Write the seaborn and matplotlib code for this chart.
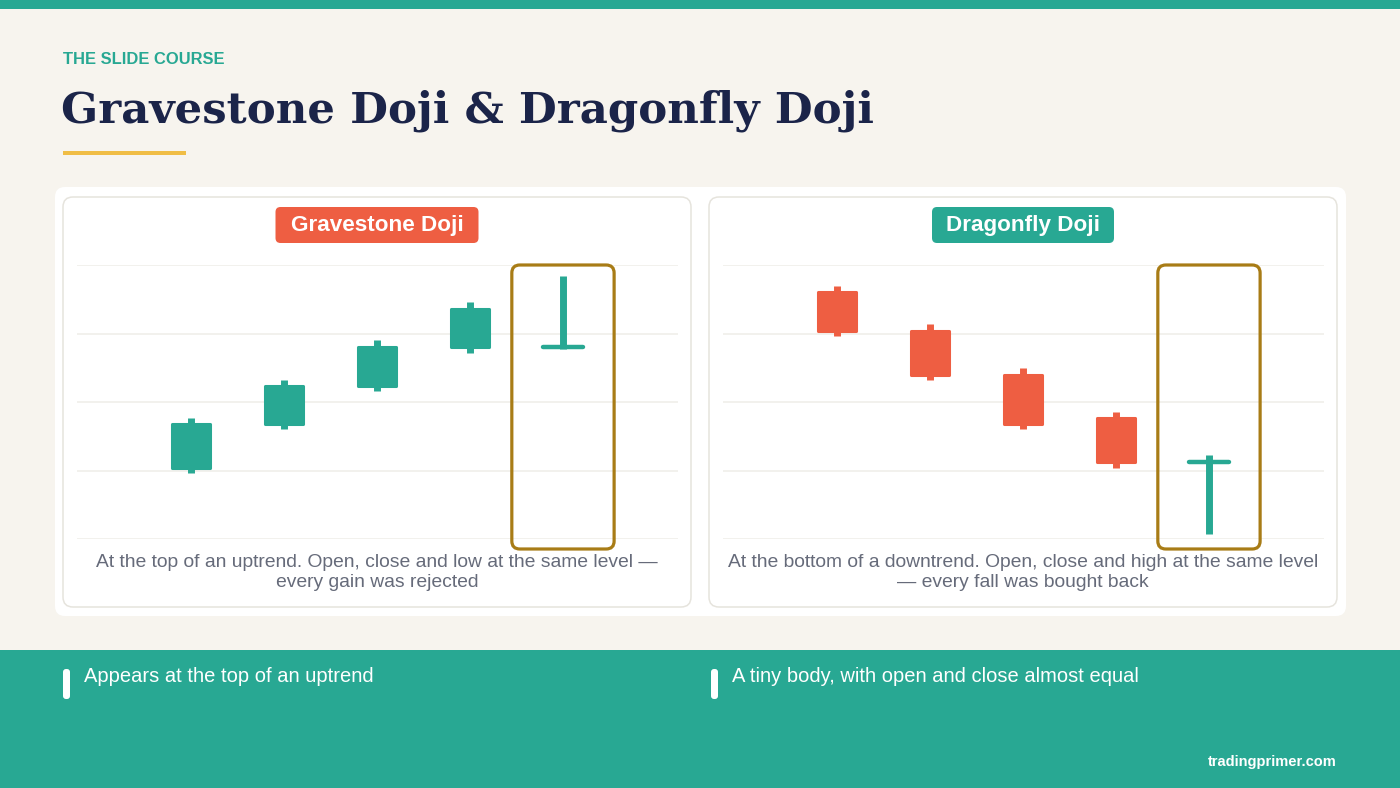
import numpy as np
import pandas as pd
import matplotlib
matplotlib.use("Agg")
import matplotlib.pyplot as plt
import seaborn as sns
from matplotlib.patches import FancyBboxPatch, Rectangle

# ---------------- data ----------------
candle_index = [0, 1, 2, 3, 4]
grave_open = [26, 42, 56, 70, 70]
grave_close = [42, 56, 70, 84, 70]
grave_high = [44, 58, 72.5, 86.5, 96]
grave_low = [24, 40, 54, 68, 69.5]

dragon_open = [90, 76, 60, 44, 28]
dragon_close = [76, 60, 42, 28, 28]
dragon_high = [92.5, 78.5, 62.5, 46.5, 30.5]
dragon_low = [74, 58, 40, 26, 2]

grid_levels = [0, 25, 50, 75, 100]

kicker = "THE SLIDE COURSE"
title = "Gravestone Doji & Dragonfly Doji"
panel_titles = ["Gravestone Doji", "Dragonfly Doji"]
captions = [
    "At the top of an uptrend. Open, close and low at the same level \u2014\nevery gain was rejected",
    "At the bottom of a downtrend. Open, close and high at the same level\n\u2014 every fall was bought back",
]
bullets = ["Appears at the top of an uptrend", "A tiny body, with open and close almost equal"]
footer_site = "tradingprimer.com"

# ---------------- style ----------------
TEAL = "#28a893"
RED = "#ee5e42"
NAVY = "#1b2449"
GOLD = "#f0bd45"
BOX = "#a87c16"
BG = "#f7f4ee"
GRID = "#efede8"
CAPTION = "#666b7a"

sns.set_theme(style="white")
plt.rcParams["font.family"] = ["Liberation Sans", "DejaVu Sans"]

W, H = 1400, 788
fig = plt.figure(figsize=(W / 100, H / 100), dpi=100, facecolor=BG)

ax_bg = fig.add_axes([0, 0, 1, 1], zorder=0)
ax_bg.set_xlim(0, W)
ax_bg.set_ylim(H, 0)
ax_bg.axis("off")
ax_bg.set_facecolor(BG)


def rrect(ax, x0, y0, x1, y1, r, fc, ec="none", lw=0, z=1):
    p = FancyBboxPatch((x0, y0), x1 - x0, y1 - y0,
                       boxstyle=f"round,pad=0,rounding_size={r}",
                       fc=fc, ec=ec, lw=lw, zorder=z)
    ax.add_patch(p)
    return p


# top bar
ax_bg.add_patch(Rectangle((0, 0), W, 9, fc=TEAL, ec="none", zorder=2))

# header
ax_bg.text(63, 64, kicker, fontsize=11.9, fontweight="bold", color=TEAL, va="baseline", ha="left")
ax_bg.text(61, 122, title, fontsize=31.3, fontweight="bold", family=["DejaVu Serif"], color=NAVY,
           va="baseline", ha="left")
ax_bg.add_patch(Rectangle((63, 151), 123, 4, fc=GOLD, ec="none", zorder=2))

# card and panels
rrect(ax_bg, 55, 187, 1346, 616, 10, "white", z=1)
panel_x = [(63, 691), (709, 1337)]
for (x0, x1) in panel_x:
    rrect(ax_bg, x0, 197, x1, 607, 10, "white", ec="#e6e4dd", lw=1.1, z=2)

# badges
badge_colors = [RED, TEAL]
badge_w = [203, 182]
for (x0, x1), t, c, bw in zip(panel_x, panel_titles, badge_colors, badge_w):
    cx = (x0 + x1) / 2
    rrect(ax_bg, cx - bw / 2, 207, cx + bw / 2, 243, 5, c, z=3)
    ax_bg.text(cx, 225.5, t, fontsize=16.2, fontweight="bold", color="white",
               ha="center", va="center", zorder=4)

# captions
for (x0, x1), cap in zip(panel_x, captions):
    cx = (x0 + x1) / 2
    ax_bg.text(cx, 572.5, cap, fontsize=13.9, color=CAPTION, ha="center", va="center",
               multialignment="center", linespacing=1.2, zorder=4)

# footer
ax_bg.add_patch(Rectangle((0, 650), W, H - 650, fc=TEAL, ec="none", zorder=1))
for bx, tx, txt in [(63, 84, bullets[0]), (711, 732, bullets[1])]:
    rrect(ax_bg, bx, 669, bx + 7, 699, 3, "white", z=3)
    ax_bg.text(tx, 677, txt, fontsize=14.5, color="white", ha="left", va="center", zorder=4)
ax_bg.text(1337, 762, footer_site, fontsize=10.5, fontweight="bold", color="white",
           ha="right", va="center", zorder=4)


# ---------------- candle panels ----------------
def make_axes(px_left, px_right, px_top=265, px_bottom=539):
    ax = fig.add_axes([px_left / W, 1 - px_bottom / H, (px_right - px_left) / W,
                       (px_bottom - px_top) / H], zorder=5)
    ax.set_facecolor("none")
    return ax


def draw_panel(ax, o, c, h, l, body_color, doji_color):
    df = pd.DataFrame(dict(x=candle_index, open=o, close=c, high=h, low=l))
    df["bottom"] = df[["open", "close"]].min(axis=1)
    df["height"] = (df["open"] - df["close"]).abs()
    df["kind"] = np.where(df["height"] < 0.5, "doji", "body")

    ax.set_xlim(-1.226, 5.237)
    ax.set_ylim(min(grid_levels), max(grid_levels))
    ax.set_yticks(grid_levels)
    ax.set_xticks([])
    ax.yaxis.grid(True, color=GRID, lw=1.1, zorder=0)
    ax.tick_params(left=False, bottom=False, labelleft=False, labelbottom=False)
    sns.despine(ax=ax, left=True, bottom=True)

    bodies = df[df["kind"] == "body"]
    dojis = df[df["kind"] == "doji"]

    ax.vlines(bodies["x"], bodies["low"], bodies["high"], color=body_color, lw=5,
              capstyle="butt", zorder=3)
    ax.bar(bodies["x"], bodies["height"], bottom=bodies["bottom"], width=0.40,
           color=body_color, edgecolor=body_color, lw=2.2, joinstyle="round", zorder=4)

    ax.vlines(dojis["x"], dojis["low"], dojis["high"], color=doji_color, lw=5,
              capstyle="butt", zorder=4)
    ax.hlines(dojis["open"], dojis["x"] - 0.22, dojis["x"] + 0.22, color=doji_color,
              lw=3.2, capstyle="round", zorder=4)

    # highlight frame around the doji
    fig.canvas.draw()
    bbox = ax.get_window_extent()
    xr = ax.get_xlim()[1] - ax.get_xlim()[0]
    yr = ax.get_ylim()[1] - ax.get_ylim()[0]
    ux = xr / bbox.width
    uy = yr / bbox.height
    for _, row in dojis.iterrows():
        x0 = row["x"] - 0.55
        y0 = min(grid_levels) - 10 * uy
        frame = FancyBboxPatch((x0, y0), 1.1, max(grid_levels) - y0,
                               boxstyle=f"round,pad=0,rounding_size={8 * ux}",
                               mutation_aspect=uy / ux,
                               fc="none", ec=BOX, lw=2.3, zorder=6, clip_on=False)
        ax.add_patch(frame)


ax_l = make_axes(77, 678)
draw_panel(ax_l, grave_open, grave_close, grave_high, grave_low, TEAL, TEAL)
ax_r = make_axes(723, 1324)
draw_panel(ax_r, dragon_open, dragon_close, dragon_high, dragon_low, RED, TEAL)

fig.savefig("out.png", dpi=100, facecolor=BG)
